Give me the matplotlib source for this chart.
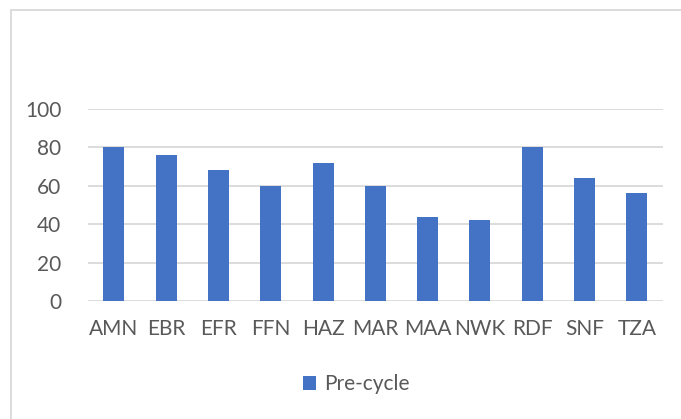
import matplotlib
matplotlib.use("Agg")
import matplotlib.pyplot as plt
from matplotlib.patches import Rectangle

sites = ["AMN", "EBR", "EFR", "FFN", "HAZ", "MAR", "MAA", "NWK", "RDF", "SNF", "TZA"]
pre_cycle = [80, 76, 68, 60, 72, 60, 44, 42, 80, 64, 56]
y_ticks = [0, 20, 40, 60, 80, 100]

plt.rcParams['font.family'] = ['Lato', 'DejaVu Sans']
text_col = '#595959'
grid_col = '#D9D9D9'

fig = plt.figure(figsize=(6.81, 4.19), dpi=100)
# chart frame (runs off the right/bottom edge like the source)
fig.patches.append(Rectangle((11 / 681, -0.1), 1.2, 1 - 10 / 419 + 0.1,
                             transform=fig.transFigure, fill=False,
                             edgecolor=grid_col, linewidth=1.3))

ax = fig.add_axes([87.7 / 681, 1 - 301 / 419, (663 - 87.7) / 681, (301 - 109) / 419])
x = range(len(sites))
ax.bar(x, pre_cycle, width=0.4, color='#4472C4', label='Pre-cycle', zorder=3)
ax.set_xlim(-0.5, len(sites) - 0.5)
ax.set_ylim(0, 100)
ax.set_yticks(y_ticks)
ax.set_xticks(list(x))
ax.set_xticklabels(sites)
ax.yaxis.grid(True, color=grid_col, linewidth=1.3, zorder=0)
for s in ax.spines.values():
    s.set_visible(False)
ax.tick_params(axis='both', length=0, labelsize=15, colors=text_col)
ax.tick_params(axis='y', pad=19)
ax.tick_params(axis='x', pad=13)

leg = fig.legend(loc='center', bbox_to_anchor=(356 / 681, 1 - 384 / 419), frameon=False,
                 fontsize=15, handlelength=0.65, handleheight=0.65, handletextpad=0.35)
for t in leg.get_texts():
    t.set_color(text_col)

fig.savefig('out.png', dpi=100)
